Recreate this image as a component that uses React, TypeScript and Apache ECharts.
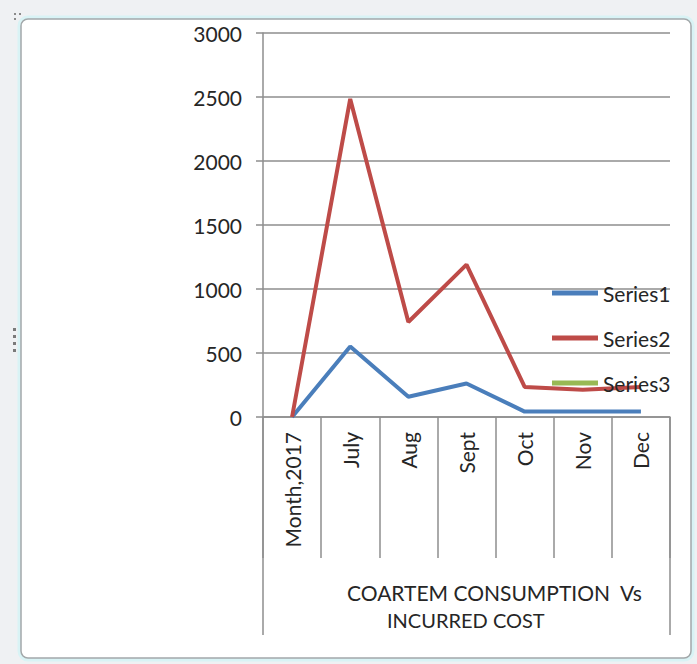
import React, { useEffect, useRef } from "react";
import * as echarts from "echarts";

const categories = ["Month,2017", "July", "Aug", "Sept", "Oct", "Nov", "Dec"];
const series1 = [0, 550, 158, 262, 42, 42, 42];
const series2 = [0, 2485, 742, 1190, 235, 212, 235];
const series3: (number | null)[] = [null, null, null, null, null, null, null];
const seriesNames = ["Series1", "Series2", "Series3"];
const yTicks = { min: 0, max: 3000, interval: 500 };
const titleLines = ["COARTEM CONSUMPTION  Vs", "INCURRED COST"];

const W = 697;
const H = 664;
const GRID = { left: 263, top: 33, right: 27, bottom: 247 };
const FONT = "Lato, 'Open Sans', sans-serif";
const GRAY = "#8e8e8e";
const TEXT = "#262626";

export default function App() {
  const ref = useRef<HTMLDivElement>(null);
  useEffect(() => {
    if (!ref.current) return;
    const chart = echarts.init(ref.current, null, { renderer: "svg" });
    const axisBottom = H - GRID.bottom;
    const gridRight = W - GRID.right;
    const option: any = {
      animation: false,
      backgroundColor: "#eff1f3",
      textStyle: { fontFamily: FONT },
      grid: { ...GRID, containLabel: false },
      legend: {
        orient: "vertical",
        left: 552,
        top: 281,
        padding: 0,
        icon: "rect",
        itemWidth: 46,
        itemHeight: 5,
        itemGap: 21,
        data: seriesNames,
        textStyle: { fontFamily: FONT, fontSize: 21, color: TEXT, lineHeight: 24 },
      },
      xAxis: {
        type: "category",
        data: categories,
        boundaryGap: true,
        axisLine: { show: true, lineStyle: { color: GRAY, width: 1.5 } },
        axisTick: { show: true, interval: 0, length: 141, lineStyle: { color: GRAY, width: 1.5 } },
        axisLabel: { interval: 0, rotate: 90, margin: 15, fontSize: 21, color: TEXT, fontFamily: FONT },
        splitLine: { show: false },
      },
      yAxis: {
        type: "value",
        min: yTicks.min,
        max: yTicks.max,
        interval: yTicks.interval,
        axisLine: { show: true, lineStyle: { color: GRAY, width: 1.5 } },
        axisTick: { show: true, length: 7, lineStyle: { color: GRAY, width: 1.5 } },
        axisLabel: { margin: 21, fontSize: 21, color: TEXT, fontFamily: FONT, formatter: (v: number) => String(v) },
        splitLine: { show: true, lineStyle: { color: GRAY, width: 1.5 } },
      },
      graphic: [
        {
          type: "rect",
          z: -10,
          silent: true,
          shape: { x: 20, y: 18, width: 672, height: 641, r: 8 },
          style: { fill: "#ffffff", stroke: "#d9f3f5", lineWidth: 5 },
        },
        {
          type: "rect",
          z: -9,
          silent: true,
          shape: { x: 21, y: 19, width: 670, height: 639, r: 7 },
          style: { fill: "#ffffff", stroke: "#a3a8aa", lineWidth: 1.5 },
        },
        ...[328, 335, 342, 349].map((y) => ({
          type: "rect",
          silent: true,
          shape: { x: 13, y, width: 3, height: 3 },
          style: { fill: "#7a7a7a" },
        })),
        ...[[14, 13], [19, 13], [14, 18]].map(([x, y]) => ({
          type: "rect",
          silent: true,
          shape: { x, y, width: 2, height: 2 },
          style: { fill: "#8a8a8a" },
        })),
        {
          type: "line",
          silent: true,
          shape: { x1: GRID.left, y1: axisBottom, x2: GRID.left, y2: 635 },
          style: { stroke: GRAY, lineWidth: 1.5 },
        },
        {
          type: "line",
          silent: true,
          shape: { x1: gridRight, y1: axisBottom, x2: gridRight, y2: 635 },
          style: { stroke: GRAY, lineWidth: 1.5 },
        },
        {
          type: "text",
          silent: true,
          x: 347,
          y: 592,
          style: { text: titleLines[0], fontSize: 21, fontFamily: FONT, fill: TEXT, verticalAlign: "middle", align: "left" },
        },
        {
          type: "text",
          silent: true,
          x: 387,
          y: 620,
          style: { text: titleLines[1], fontSize: 20, fontFamily: FONT, fill: TEXT, verticalAlign: "middle", align: "left" },
        },
      ],
      series: [
        { name: seriesNames[0], type: "line", data: series1, symbol: "none", color: "#4A7EBB", lineStyle: { width: 4, color: "#4A7EBB" } },
        { name: seriesNames[1], type: "line", data: series2, symbol: "none", color: "#BE4B48", lineStyle: { width: 4, color: "#BE4B48" } },
        { name: seriesNames[2], type: "line", data: series3, symbol: "none", color: "#98B954", lineStyle: { width: 4, color: "#98B954" } },
      ],
    };
    chart.setOption(option);
    return () => chart.dispose();
  }, []);
  return (
    <div
      ref={ref}
      style={{ position: "fixed", left: 0, top: 0, width: W, height: H }}
    />
  );
}
